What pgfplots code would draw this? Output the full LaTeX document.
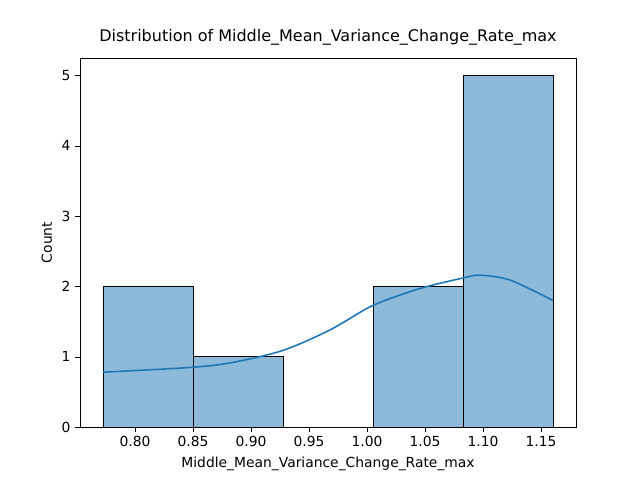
\documentclass[border=0pt]{standalone}
\usepackage{pgfplots}
\pgfplotsset{compat=1.18}
\usepackage{fontspec}
\setmainfont{DejaVu Sans}
\definecolor{barc}{RGB}{142,186,217}
\definecolor{linec}{RGB}{31,119,180}
\begin{document}
\fontsize{10.4pt}{12pt}\selectfont
\begin{tikzpicture}
\begin{axis}[
  scale only axis, width=372pt, height=276.75pt,
  xmin=0.7526, xmax=1.1802, ymin=0, ymax=5.25,
  xtick={0.80,0.85,...,1.16},
  xticklabel style={/pgf/number format/.cd,fixed,fixed zerofill,precision=2},
  ytick={0,1,2,3,4,5},
  /pgf/number format/assume math mode=true,
  tick style={black}, major tick length=3.5pt, tick align=outside,
  xtick pos=bottom, ytick pos=left,
  xlabel={Middle\_Mean\_Variance\_Change\_Rate\_max},
  ylabel={Count},
  title={\fontsize{12pt}{14pt}\selectfont Distribution of Middle\_Mean\_Variance\_Change\_Rate\_max},
  ticklabel style={font=\fontsize{10.4pt}{12pt}\selectfont},
  label style={font=\fontsize{10.4pt}{12pt}\selectfont},
]
\addplot[ybar interval, fill=barc, draw=black] coordinates {
(0.7724,2) (0.8500,1) (0.9276,0) (1.0052,2) (1.0828,5) (1.1603,5)};
\addplot[linec, line width=1.2pt, smooth] coordinates {
(0.7724,0.78) (0.85,0.85) (0.8845,0.92) (0.9276,1.09) (0.968,1.38) (1.0052,1.73)
(1.0457,1.97) (1.0828,2.12) (1.0974,2.16) (1.1233,2.09) (1.1603,1.80)};
\end{axis}
\path (current axis.south west) ++(-60pt,-39.75pt) rectangle ([shift={(48pt,43.5pt)}]current axis.north east);
\end{tikzpicture}
\end{document}
